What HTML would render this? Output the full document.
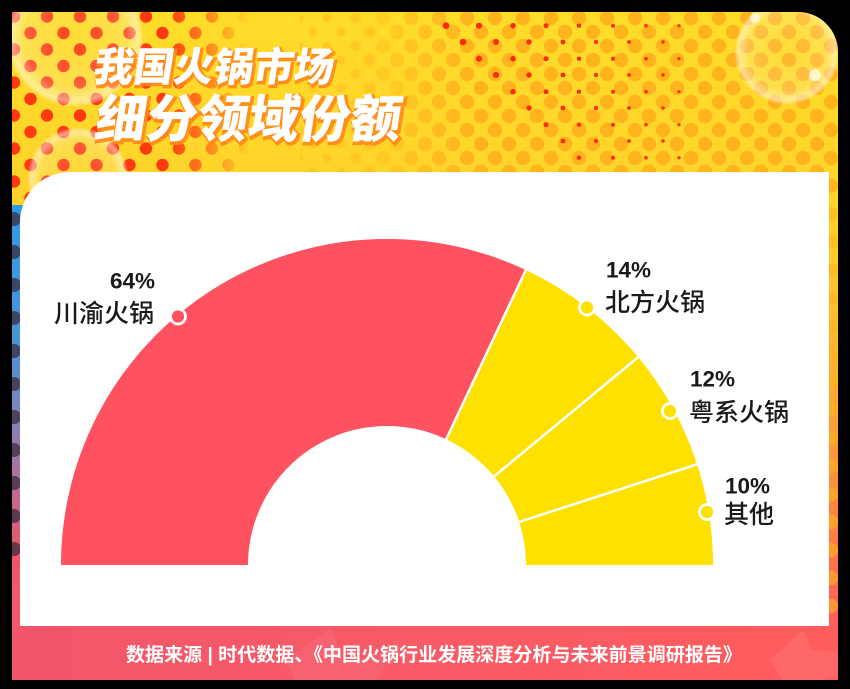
<!DOCTYPE html>
<html><head><meta charset="utf-8">
<style>
html,body{margin:0;padding:0;background:#000;}
svg{display:block;}
</style></head>
<body>
<svg width="850" height="689" viewBox="0 0 850 689" xmlns="http://www.w3.org/2000/svg">
<defs>
  <clipPath id="panel">
    <path d="M12,12 H798 A40,40 0 0 1 838,52 V680 H12 Z"/>
  </clipPath>
  <linearGradient id="bgv" x1="0" y1="12" x2="0" y2="680" gradientUnits="userSpaceOnUse">
    <stop offset="0" stop-color="#FFDC2A"/>
    <stop offset="0.3" stop-color="#FFD22A"/>
    <stop offset="0.55" stop-color="#FFAE32"/>
    <stop offset="0.8" stop-color="#FF7A45"/>
    <stop offset="0.92" stop-color="#FF5C5E"/>
    <stop offset="1" stop-color="#FF5563"/>
  </linearGradient>
  <linearGradient id="leftstrip" x1="0" y1="200" x2="0" y2="620" gradientUnits="userSpaceOnUse">
    <stop offset="0" stop-color="#2E9BE6"/>
    <stop offset="0.35" stop-color="#4B94D8"/>
    <stop offset="0.6" stop-color="#9C7AA8"/>
    <stop offset="0.85" stop-color="#F0556A"/>
    <stop offset="1" stop-color="#F5586A"/>
  </linearGradient>
  <linearGradient id="bottombar" x1="0" y1="0" x2="1" y2="0">
    <stop offset="0" stop-color="#F2566A"/>
    <stop offset="0.5" stop-color="#F85A66"/>
    <stop offset="1" stop-color="#FF5C5C"/>
  </linearGradient>
  <pattern id="reddots" width="33" height="33" patternUnits="userSpaceOnUse" x="14" y="0">
    <circle cx="16.5" cy="0" r="6.2" fill="#FF3A12"/>
    <circle cx="0" cy="16.5" r="6.2" fill="#FF3A12"/>
    <circle cx="33" cy="16.5" r="6.2" fill="#FF3A12"/>
    <circle cx="16.5" cy="33" r="6.2" fill="#FF3A12"/>
  </pattern>
  <pattern id="darkdots" width="20" height="33" patternUnits="userSpaceOnUse" x="0" y="5">
    <circle cx="14" cy="16" r="7" fill="#3A2A40" opacity="0.75"/>
  </pattern>
  <pattern id="orangedots" width="28" height="28" patternUnits="userSpaceOnUse" x="5" y="4">
    <circle cx="0" cy="0" r="7.2" fill="#FFB41E"/>
    <circle cx="28" cy="0" r="7.2" fill="#FFB41E"/>
    <circle cx="0" cy="28" r="7.2" fill="#FFB41E"/>
    <circle cx="28" cy="28" r="7.2" fill="#FFB41E"/>
    <circle cx="14" cy="14" r="7.2" fill="#FFB41E"/>
  </pattern>
  <pattern id="orangedotsS" width="28" height="28" patternUnits="userSpaceOnUse" x="5" y="4">
    <circle cx="0" cy="0" r="4.5" fill="#FFBE22"/>
    <circle cx="28" cy="0" r="4.5" fill="#FFBE22"/>
    <circle cx="0" cy="28" r="4.5" fill="#FFBE22"/>
    <circle cx="28" cy="28" r="4.5" fill="#FFBE22"/>
    <circle cx="14" cy="14" r="4.5" fill="#FFBE22"/>
  </pattern>
  <linearGradient id="fadeR" x1="12" y1="0" x2="250" y2="0" gradientUnits="userSpaceOnUse">
    <stop offset="0" stop-color="#fff"/>
    <stop offset="0.65" stop-color="#fff"/>
    <stop offset="1" stop-color="#000"/>
  </linearGradient>
  <mask id="leftmask"><rect x="12" y="12" width="260" height="210" fill="url(#fadeR)"/></mask>
  <linearGradient id="fadeL" x1="340" y1="0" x2="470" y2="0" gradientUnits="userSpaceOnUse">
    <stop offset="0" stop-color="#000"/>
    <stop offset="1" stop-color="#fff"/>
  </linearGradient>
  <mask id="rightmask"><rect x="330" y="12" width="520" height="670" fill="url(#fadeL)"/></mask>
  <radialGradient id="bubble" cx="0.5" cy="0.5" r="0.5">
    <stop offset="0" stop-color="#fff" stop-opacity="0.05"/>
    <stop offset="0.75" stop-color="#fff" stop-opacity="0.18"/>
    <stop offset="0.93" stop-color="#fff" stop-opacity="0.5"/>
    <stop offset="1" stop-color="#fff" stop-opacity="0.15"/>
  </radialGradient>
</defs>

<rect x="0" y="0" width="850" height="689" fill="#000"/>

<g clip-path="url(#panel)">
  <rect x="0" y="0" width="850" height="689" fill="url(#bgv)"/>
  <!-- top-left red dots -->
  <rect x="12" y="12" width="260" height="205" fill="url(#reddots)" mask="url(#leftmask)"/>
  <!-- left strip -->
  <rect x="12" y="205" width="12" height="420" fill="url(#leftstrip)"/>
  <rect x="12" y="205" width="12" height="360" fill="url(#darkdots)"/>
  <!-- right orange dots -->
  <g mask="url(#rightmask)">
    <rect x="330" y="12" width="520" height="180" fill="url(#orangedots)"/>
    <rect x="822" y="180" width="20" height="450" fill="url(#orangedots)" opacity="0.6"/>
  </g>
  <rect x="300" y="12" width="80" height="180" fill="url(#orangedotsS)" opacity="0.6"/>
  <!-- tiny red dots diagonal band -->
  <g fill="#FF2A00">
    <circle cx="446" cy="25.7" r="3.4"/><circle cx="479" cy="25.7" r="3.1"/><circle cx="513" cy="25.7" r="2.8"/><circle cx="546" cy="25.7" r="2.5"/><circle cx="579" cy="25.7" r="2.2"/><circle cx="613" cy="25.7" r="2"/><circle cx="646" cy="25.7" r="1.8"/><circle cx="679" cy="25.7" r="1.6"/>
    <circle cx="463" cy="42" r="3.3"/><circle cx="496" cy="42" r="3"/><circle cx="529" cy="42" r="2.7"/><circle cx="563" cy="42" r="2.4"/><circle cx="596" cy="42" r="2.1"/><circle cx="629" cy="42" r="1.9"/><circle cx="663" cy="42" r="1.7"/>
    <circle cx="479" cy="58.7" r="3.1"/><circle cx="513" cy="58.7" r="2.8"/><circle cx="546" cy="58.7" r="2.5"/><circle cx="579" cy="58.7" r="2.2"/><circle cx="613" cy="58.7" r="2"/><circle cx="646" cy="58.7" r="1.8"/><circle cx="679" cy="58.7" r="1.6"/>
    <circle cx="496" cy="75" r="3"/><circle cx="529" cy="75" r="2.7"/><circle cx="563" cy="75" r="2.4"/><circle cx="596" cy="75" r="2.1"/><circle cx="629" cy="75" r="1.9"/><circle cx="663" cy="75" r="1.7"/>
    <circle cx="513" cy="91.7" r="2.8"/><circle cx="546" cy="91.7" r="2.5"/><circle cx="579" cy="91.7" r="2.2"/><circle cx="613" cy="91.7" r="2"/><circle cx="646" cy="91.7" r="1.8"/><circle cx="679" cy="91.7" r="1.6"/>
    <circle cx="529" cy="108" r="2.7"/><circle cx="563" cy="108" r="2.4"/><circle cx="596" cy="108" r="2.1"/><circle cx="629" cy="108" r="1.9"/><circle cx="663" cy="108" r="1.7"/>
    <circle cx="546" cy="124.7" r="2.5"/><circle cx="579" cy="124.7" r="2.2"/><circle cx="613" cy="124.7" r="2"/><circle cx="646" cy="124.7" r="1.8"/><circle cx="679" cy="124.7" r="1.6"/>
    <circle cx="563" cy="141" r="2.4"/><circle cx="596" cy="141" r="2.1"/><circle cx="629" cy="141" r="1.9"/><circle cx="663" cy="141" r="1.7"/>
    <circle cx="579" cy="157.7" r="2.2"/><circle cx="613" cy="157.7" r="2"/><circle cx="646" cy="157.7" r="1.8"/><circle cx="679" cy="157.7" r="1.6"/>
  </g>
  <!-- bubbles -->
  <circle cx="75" cy="38" r="68" fill="url(#bubble)"/>
  <circle cx="78" cy="178" r="50" fill="url(#bubble)"/>
  <circle cx="787" cy="52" r="52" fill="url(#bubble)"/>
  <circle cx="815" cy="75" r="6" fill="#fff" opacity="0.7"/>
  <circle cx="755" cy="18" r="5" fill="#fff" opacity="0.6"/>
  <!-- bottom bar -->
  <rect x="12" y="626" width="830" height="60" fill="url(#bottombar)"/>
  <path d="M330,628 L345,660 L390,658 L370,690 L300,690 L285,660 Z" fill="#ffffff" opacity="0.06"/>
  <path d="M803,630 L812,650 L838,652 L838,675 L790,690 L770,660 Z" fill="#ffffff" opacity="0.08"/>
</g>

<!-- white card -->
<path d="M20,222 A50,50 0 0 1 70,172 H829 V626 H20 Z" fill="#ffffff"/>

<!-- title -->
<g font-family="'Noto Sans CJK SC','WenQuanYi Zen Hei',sans-serif" font-weight="900">
  <g transform="translate(92,81) skewX(-9)">
    <text x="2" y="2" font-size="40" fill="#FF7A12" stroke="#FF8A1A" stroke-width="3" opacity="0.9">我国火锅市场</text>
    <text x="0" y="0" font-size="40" fill="#ffffff">我国火锅市场</text>
  </g>
  <g transform="translate(93,137) skewX(-9)">
    <text x="2" y="2" font-size="51" fill="#FF7A12" stroke="#FF8A1A" stroke-width="3.5" opacity="0.9">细分领域份额</text>
    <text x="0" y="0" font-size="51" fill="#ffffff">细分领域份额</text>
  </g>
</g>

<!-- donut -->
<g>
  <path d="M61,565 A326,326 0 0 1 525.8,270.0 L446.2,439.2 A139,139 0 0 0 248,565 Z" fill="#FE5261"/>
  <path d="M525.8,270.0 A326,326 0 0 1 713,565 L526,565 A139,139 0 0 0 446.2,439.2 Z" fill="#FFE100"/>
  <g stroke="#ffffff" stroke-width="2.5">
    <line x1="446.2" y1="439.2" x2="526.6" y2="268.3"/>
    <line x1="494.1" y1="476.4" x2="639.0" y2="356.5"/>
    <line x1="519.2" y1="522.0" x2="698.0" y2="464.0"/>
  </g>
  <g stroke="#ffffff" stroke-width="2.8">
    <circle cx="178" cy="316.5" r="7.5" fill="#FE5261"/>
    <circle cx="587" cy="307.5" r="7.5" fill="#FFE100"/>
    <circle cx="670" cy="411" r="7.5" fill="#FFE100"/>
    <circle cx="707" cy="512" r="7.5" fill="#FFE100"/>
  </g>
</g>

<!-- labels -->
<g fill="#1a1a1a">
  <g font-family="'Liberation Sans',sans-serif" font-weight="bold" font-size="22.5">
    <text x="155" y="288.5" text-anchor="end">64%</text>
    <text x="606" y="277.5">14%</text>
    <text x="690" y="386.5">12%</text>
    <text x="725" y="493.5">10%</text>
  </g>
  <g font-family="'Liberation Sans','Noto Sans CJK SC',sans-serif" font-weight="500" font-size="25">
    <text x="54" y="322">川渝火锅</text>
    <text x="605" y="311">北方火锅</text>
    <text x="689" y="421">粤系火锅</text>
    <text x="724" y="523">其他</text>
  </g>
</g>

<!-- source -->
<text x="126" y="661" font-family="'Liberation Sans','Noto Sans CJK SC',sans-serif" font-weight="bold" font-size="19" fill="#ffffff" textLength="616" lengthAdjust="spacingAndGlyphs">数据来源 | 时代数据、《中国火锅行业发展深度分析与未来前景调研报告》</text>
</svg>
</body></html>
